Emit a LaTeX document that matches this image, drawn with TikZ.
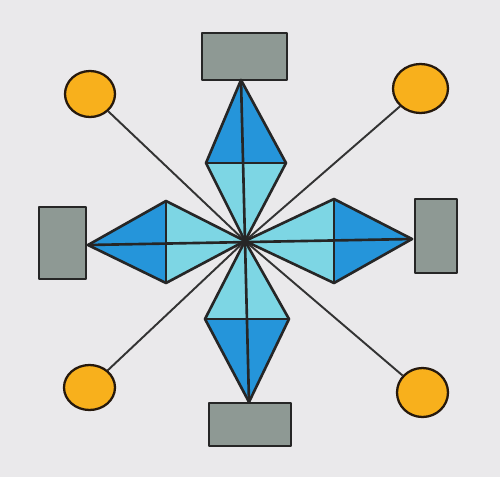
\documentclass[tikz,border=0pt]{standalone}
\usetikzlibrary{shapes.geometric}
\begin{document}
\begin{tikzpicture}[x=0.02cm,y=-0.02cm,
  ink/.style={draw=black!85, line width=1.5pt, line join=round, line cap=round},
  greybox/.style={ink, fill=graybox, inner sep=0pt},
  dot/.style={draw=black!80!brown, line width=1.3pt, fill=sun, ellipse, inner sep=0pt},
  rod/.style={draw=black!80, line width=1.1pt},
  darkpart/.style={fill=deepblue},
  lightpart/.style={fill=paleblue}]
\definecolor{paper}{HTML}{EAE9EB}
\definecolor{graybox}{HTML}{8E9994}
\definecolor{deepblue}{HTML}{2595DA}
\definecolor{paleblue}{HTML}{7DD6E4}
\definecolor{sun}{HTML}{F8B01C}
\fill[paper] (0,0) rectangle (500,477);
\useasboundingbox (0,0) rectangle (500,477);
% key points
\coordinate (C) at (245,241);
\coordinate (Tt) at (241,80);  \coordinate (Tl) at (206,163); \coordinate (Tr) at (286,163);
\coordinate (Lt) at (88,245);  \coordinate (Lu) at (166,201); \coordinate (Ld) at (166,283);
\coordinate (Rt) at (412,239); \coordinate (Ru) at (334,199); \coordinate (Rd) at (334,283);
\coordinate (Bt) at (249,402); \coordinate (Bl) at (205,319); \coordinate (Br) at (289,319);
% fills
\fill[darkpart] (Tt) -- (Tl) -- (Tr) -- cycle;
\fill[lightpart] (Tl) -- (C) -- (Tr) -- cycle;
\fill[darkpart] (Lt) -- (Lu) -- (Ld) -- cycle;
\fill[lightpart] (Lu) -- (C) -- (Ld) -- cycle;
\fill[darkpart] (Rt) -- (Ru) -- (Rd) -- cycle;
\fill[lightpart] (Ru) -- (C) -- (Rd) -- cycle;
\fill[darkpart] (Bt) -- (Bl) -- (Br) -- cycle;
\fill[lightpart] (Bl) -- (C) -- (Br) -- cycle;
% rectangles
\node[greybox, minimum width=1.7cm, minimum height=0.94cm] (topbox) at (244.5,56.5) {};
\node[greybox, minimum width=1.64cm, minimum height=0.86cm] (botbox) at (250,424.5) {};
\node[greybox, minimum width=0.94cm, minimum height=1.44cm] (leftbox) at (62.5,243) {};
\node[greybox, minimum width=0.84cm, minimum height=1.48cm] (rightbox) at (436,236) {};
% circles
\node[dot, minimum width=1.0cm, minimum height=0.92cm] (ctl) at (90,94) {};
\node[dot, minimum width=1.1cm, minimum height=0.98cm] (ctr) at (420.5,88.5) {};
\node[dot, minimum width=1.02cm, minimum height=0.9cm] (cbl) at (89.5,387.5) {};
\node[dot, minimum width=1.02cm, minimum height=0.98cm] (cbr) at (422.5,392.5) {};
% rods
\draw[rod] (ctl) -- (C);
\draw[rod] (ctr) -- (C);
\draw[rod] (cbl) -- (C);
\draw[rod] (cbr) -- (C);
% diamond outlines and axes
\draw[ink] (Tt) -- (Tl) -- (C) -- (Tr) -- cycle;
\draw[ink] (Tl) -- (Tr);
\draw[ink] (Lt) -- (Lu) -- (C) -- (Ld) -- cycle;
\draw[ink] (Lu) -- (Ld);
\draw[ink] (Rt) -- (Ru) -- (C) -- (Rd) -- cycle;
\draw[ink] (Ru) -- (Rd);
\draw[ink] (Bt) -- (Bl) -- (C) -- (Br) -- cycle;
\draw[ink] (Bl) -- (Br);
\draw[ink] (Tt) -- (Bt);
\draw[ink] (Lt) -- (Rt);
\end{tikzpicture}
\end{document}
